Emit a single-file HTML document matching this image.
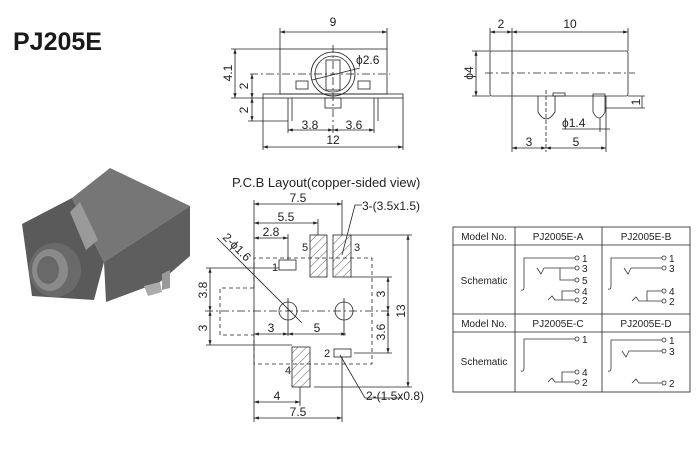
<!DOCTYPE html>
<html><head><meta charset="utf-8"><style>
html,body{margin:0;padding:0;background:#fff;}
svg{display:block;font-family:"Liberation Sans",Arial,sans-serif;}
</style></head><body>
<svg width="700" height="450" viewBox="0 0 700 450" xmlns="http://www.w3.org/2000/svg">
<defs>
<pattern id="h" width="6" height="6" patternUnits="userSpaceOnUse" patternTransform="rotate(45)">
<line x1="0" y1="0" x2="0" y2="6" stroke="#333" stroke-width="0.8"/></pattern>
<marker id="a" markerWidth="6" markerHeight="4" refX="6" refY="2" orient="auto-start-reverse"><path d="M0,0 L6,2 L0,4z" fill="#222"/></marker>
</defs>
<rect width="700" height="450" fill="#fff"/>
<text x="13" y="50" font-size="25" font-weight="bold" fill="#1a1a1a">PJ205E</text>

<!-- photo -->
<g>
<polygon points="22,224 72,198 104,262 94,300 32,296" fill="#5a5a5a"/>
<polygon points="72,198 110,168 190,206 104,262" fill="#767676"/>
<polygon points="104,262 190,206 190,256 160,282 106,302" fill="#5e5e5e"/>
<polygon points="70,212 80,202 98,240 86,250" fill="#9a9a9a"/>
<polygon points="162,274 170,270 170,288 162,290" fill="#999"/>
<polygon points="144,286 160,282 162,292 148,296" fill="#ababab"/>
<ellipse cx="55" cy="270" rx="26" ry="27" fill="#6a6a6a"/>
<ellipse cx="50" cy="270" rx="18" ry="21" fill="#8a8a8a"/>
<ellipse cx="48" cy="270" rx="11" ry="14" fill="#696969"/>
</g>

<g stroke="#222" stroke-width="0.8" fill="none">
<!-- front view -->
<rect x="280" y="49" width="107" height="45"/>
<rect x="263" y="94" width="140" height="4"/>
<circle cx="333" cy="74" r="22"/><circle cx="333" cy="74" r="18"/>
<rect x="326" y="60" width="14" height="30"/>
<rect x="296" y="81" width="12" height="8"/><rect x="358" y="81" width="12" height="8"/>
<rect x="325" y="98" width="16" height="10"/>
<line x1="288" y1="98" x2="288" y2="121"/><line x1="292" y1="98" x2="292" y2="121"/>
<line x1="374" y1="98" x2="374" y2="121"/><line x1="378" y1="98" x2="378" y2="121"/>
<line x1="250" y1="74" x2="390" y2="74" stroke-dasharray="8,3,2,3"/>
<line x1="333" y1="45" x2="333" y2="135" stroke-dasharray="8,3,2,3"/>
<line x1="312" y1="80" x2="360" y2="68"/>
<line x1="280" y1="49" x2="280" y2="28"/><line x1="387" y1="49" x2="387" y2="28"/>
<line x1="280" y1="32" x2="387" y2="32" marker-start="url(#a)" marker-end="url(#a)"/>
<line x1="263" y1="98" x2="263" y2="150"/><line x1="403" y1="98" x2="403" y2="150"/>
<line x1="263" y1="147" x2="403" y2="147" marker-start="url(#a)" marker-end="url(#a)"/>
<line x1="288" y1="121" x2="288" y2="133"/><line x1="374" y1="121" x2="374" y2="133"/>
<line x1="288" y1="130" x2="333" y2="130" marker-start="url(#a)" marker-end="url(#a)"/>
<line x1="333" y1="130" x2="374" y2="130" marker-start="url(#a)" marker-end="url(#a)"/>
<line x1="231" y1="49" x2="280" y2="49"/><line x1="231" y1="98" x2="263" y2="98"/>
<line x1="235" y1="49" x2="235" y2="98" marker-start="url(#a)" marker-end="url(#a)"/>
<line x1="248" y1="121" x2="288" y2="121"/>
<line x1="252" y1="74" x2="252" y2="98" marker-start="url(#a)" marker-end="url(#a)"/>
<line x1="252" y1="98" x2="252" y2="121" marker-start="url(#a)" marker-end="url(#a)"/>

<!-- side view -->
<rect x="490" y="51" width="138" height="45" rx="2"/>
<line x1="512" y1="51" x2="512" y2="96"/>
<line x1="512" y1="96" x2="512" y2="152"/>
<line x1="628" y1="96" x2="645" y2="96"/>
<rect x="553" y="93" width="12" height="3"/>
<path d="M538,96 V112 Q546,126 555,112 V96"/>
<path d="M593,94 V112 Q599,124 605,112 V94 Z"/>
<line x1="546" y1="90" x2="546" y2="152" stroke-dasharray="4,2"/>
<line x1="606" y1="96" x2="606" y2="152"/>
<line x1="485" y1="73" x2="635" y2="73" stroke-dasharray="8,3,2,3"/>
<line x1="490" y1="51" x2="490" y2="28"/><line x1="512" y1="51" x2="512" y2="28"/><line x1="628" y1="51" x2="628" y2="28"/>
<line x1="490" y1="32" x2="512" y2="32" marker-start="url(#a)" marker-end="url(#a)"/>
<line x1="512" y1="32" x2="628" y2="32" marker-start="url(#a)" marker-end="url(#a)"/>
<line x1="472" y1="51" x2="490" y2="51"/><line x1="472" y1="96" x2="490" y2="96"/>
<line x1="476" y1="51" x2="476" y2="96" marker-start="url(#a)" marker-end="url(#a)"/>
<line x1="605" y1="108" x2="645" y2="108"/>
<line x1="642" y1="96" x2="642" y2="108"/>
<line x1="512" y1="148" x2="546" y2="148" marker-start="url(#a)" marker-end="url(#a)"/>
<line x1="546" y1="148" x2="606" y2="148" marker-start="url(#a)" marker-end="url(#a)"/>
<line x1="562" y1="129" x2="610" y2="129"/>
<line x1="600" y1="118" x2="600" y2="132"/>

<!-- PCB -->
<path d="M254,288 V258 H372 V364 H254 V335" stroke-dasharray="4,3"/>
<path d="M254,288 H220 V335 H254" stroke-dasharray="4,3"/>
<rect x="310" y="235" width="17" height="42" fill="url(#h)"/>
<rect x="333" y="235" width="18" height="42" fill="url(#h)"/>
<rect x="292" y="347" width="18" height="40" fill="url(#h)"/>
<rect x="279" y="260" width="17" height="10"/>
<rect x="334" y="349" width="17" height="8"/>
<circle cx="288" cy="311" r="9"/><circle cx="344" cy="311" r="9"/>
<line x1="205" y1="311" x2="392" y2="311" stroke-dasharray="8,3,2,3"/>
<line x1="288" y1="298" x2="288" y2="336"/><line x1="344" y1="298" x2="344" y2="336"/>
<line x1="254" y1="200" x2="254" y2="422"/>
<line x1="342" y1="200" x2="342" y2="235"/><line x1="318" y1="219" x2="318" y2="235"/><line x1="288" y1="234" x2="288" y2="260"/>
<line x1="254" y1="204" x2="342" y2="204" marker-start="url(#a)" marker-end="url(#a)"/>
<line x1="254" y1="223" x2="318" y2="223" marker-start="url(#a)" marker-end="url(#a)"/>
<line x1="254" y1="238" x2="288" y2="238" marker-start="url(#a)" marker-end="url(#a)"/>
<line x1="254" y1="334" x2="288" y2="334" marker-start="url(#a)" marker-end="url(#a)"/>
<line x1="288" y1="334" x2="346" y2="334" marker-start="url(#a)" marker-end="url(#a)"/>
<line x1="351" y1="235" x2="412" y2="235"/><line x1="314" y1="387" x2="412" y2="387"/>
<line x1="408" y1="235" x2="408" y2="387" marker-start="url(#a)" marker-end="url(#a)"/>
<line x1="351" y1="277" x2="392" y2="277"/><line x1="354" y1="353" x2="392" y2="353"/>
<line x1="388" y1="277" x2="388" y2="311" marker-start="url(#a)" marker-end="url(#a)"/>
<line x1="388" y1="311" x2="388" y2="353" marker-start="url(#a)" marker-end="url(#a)"/>
<line x1="206" y1="268" x2="279" y2="268"/><line x1="206" y1="345" x2="292" y2="345"/>
<line x1="210" y1="268" x2="210" y2="311" marker-start="url(#a)" marker-end="url(#a)"/>
<line x1="210" y1="311" x2="210" y2="345" marker-start="url(#a)" marker-end="url(#a)"/>
<line x1="300" y1="387" x2="300" y2="406"/><line x1="342" y1="357" x2="342" y2="422"/>
<line x1="254" y1="402" x2="300" y2="402" marker-start="url(#a)" marker-end="url(#a)"/>
<line x1="254" y1="418" x2="342" y2="418" marker-start="url(#a)" marker-end="url(#a)"/>
<line x1="217" y1="238" x2="302" y2="323"/>
<path d="M342,255 L355,205 H362"/>
<path d="M340,355 L365,398 H402"/>

<!-- table -->
<rect x="453" y="227" width="237" height="165"/>
<line x1="515" y1="227" x2="515" y2="392"/><line x1="602" y1="227" x2="602" y2="392"/>
<line x1="453" y1="245" x2="690" y2="245"/><line x1="453" y1="314" x2="690" y2="314"/><line x1="453" y1="332" x2="690" y2="332"/>
</g>
<g stroke="#333" stroke-width="0.8" fill="none">
<path d="M521,290 Q524,291 524,287 V258 H575"/><circle cx="577" cy="258" r="2"/>
<path d="M537,268 L541,274 L544,268 H575"/><circle cx="577" cy="268" r="2"/>
<path d="M560,268 V280 H575"/><circle cx="577" cy="280" r="2"/>
<path d="M548,300 L552,296 L555,300 H575"/><circle cx="577" cy="300" r="2"/>
<path d="M562,300 V291 H575"/><circle cx="577" cy="291" r="2"/>
<path d="M608,289 Q611,290 611,286 V258 H662"/><circle cx="664" cy="258" r="2"/>
<path d="M624,268 L628,274 L631,268 H662"/><circle cx="664" cy="268" r="2"/>
<path d="M632,301 L636,297 L639,301 H662"/><circle cx="664" cy="301" r="2"/>
<path d="M647,301 V291 H662"/><circle cx="664" cy="291" r="2"/>
<path d="M521,371 Q524,372 524,368 V339 H575"/><circle cx="577" cy="339" r="2"/>
<path d="M548,382 L552,378 L555,382 H575"/><circle cx="577" cy="382" r="2"/>
<path d="M562,382 V372 H575"/><circle cx="577" cy="372" r="2"/>
<path d="M608,371 Q611,372 611,368 V340 H662"/><circle cx="664" cy="340" r="2"/>
<path d="M622,351 L626,357 L629,351 H662"/><circle cx="664" cy="351" r="2"/>
<path d="M632,383 L636,379 L639,383 H662"/><circle cx="664" cy="383" r="2"/>
</g>

<g fill="#222" font-size="12">
<text x="333" y="26" text-anchor="middle">9</text>
<text x="333" y="144" text-anchor="middle">12</text>
<text x="310" y="129" text-anchor="middle">3.8</text>
<text x="354" y="129" text-anchor="middle">3.6</text>
<text x="356" y="64">ϕ2.6</text>
<text transform="translate(232,73) rotate(-90)" text-anchor="middle">4.1</text>
<text transform="translate(248,86) rotate(-90)" text-anchor="middle">2</text>
<text transform="translate(248,110) rotate(-90)" text-anchor="middle">2</text>
<text x="501" y="28" text-anchor="middle">2</text>
<text x="570" y="28" text-anchor="middle">10</text>
<text transform="translate(473,73) rotate(-90)" text-anchor="middle">ϕ4</text>
<text transform="translate(640,102) rotate(-90)" text-anchor="middle">1</text>
<text x="562" y="127">ϕ1.4</text>
<text x="529" y="146" text-anchor="middle">3</text>
<text x="576" y="146" text-anchor="middle">5</text>
<text x="232" y="187" font-size="13">P.C.B Layout(copper-sided view)</text>
<text x="298" y="202" text-anchor="middle">7.5</text>
<text x="286" y="221" text-anchor="middle">5.5</text>
<text x="271" y="236" text-anchor="middle">2.8</text>
<text x="271" y="332" text-anchor="middle">3</text>
<text x="317" y="332" text-anchor="middle">5</text>
<text x="277" y="400" text-anchor="middle">4</text>
<text x="298" y="416" text-anchor="middle">7.5</text>
<text x="362" y="210">3-(3.5x1.5)</text>
<text x="366" y="400">2-(1.5x0.8)</text>
<text transform="translate(405,311) rotate(-90)" text-anchor="middle">13</text>
<text transform="translate(385,294) rotate(-90)" text-anchor="middle">3</text>
<text transform="translate(385,332) rotate(-90)" text-anchor="middle">3.6</text>
<text transform="translate(207,290) rotate(-90)" text-anchor="middle">3.8</text>
<text transform="translate(207,328) rotate(-90)" text-anchor="middle">3</text>
<text transform="translate(222,238) rotate(45)">2-ϕ1.6</text>
<text x="272" y="271" font-size="11">1</text>
<text x="302" y="251" font-size="11">5</text>
<text x="354" y="251" font-size="11">3</text>
<text x="324" y="357" font-size="11">2</text>
<text x="285" y="374" font-size="11">4</text>
</g>
<g fill="#222" font-size="10">
<text x="484" y="240" text-anchor="middle">Model No.</text>
<text x="558" y="240" text-anchor="middle">PJ2005E-A</text>
<text x="646" y="240" text-anchor="middle">PJ2005E-B</text>
<text x="484" y="284" text-anchor="middle">Schematic</text>
<text x="484" y="327" text-anchor="middle">Model No.</text>
<text x="558" y="327" text-anchor="middle">PJ2005E-C</text>
<text x="646" y="327" text-anchor="middle">PJ2005E-D</text>
<text x="484" y="365" text-anchor="middle">Schematic</text>
<text x="582" y="262">1</text><text x="582" y="272">3</text><text x="582" y="284">5</text><text x="582" y="295">4</text><text x="582" y="304">2</text>
<text x="669" y="262">1</text><text x="669" y="272">3</text><text x="669" y="295">4</text><text x="669" y="305">2</text>
<text x="582" y="343">1</text><text x="582" y="376">4</text><text x="582" y="386">2</text>
<text x="669" y="344">1</text><text x="669" y="355">3</text><text x="669" y="387">2</text>
</g>
</svg>
</body></html>
